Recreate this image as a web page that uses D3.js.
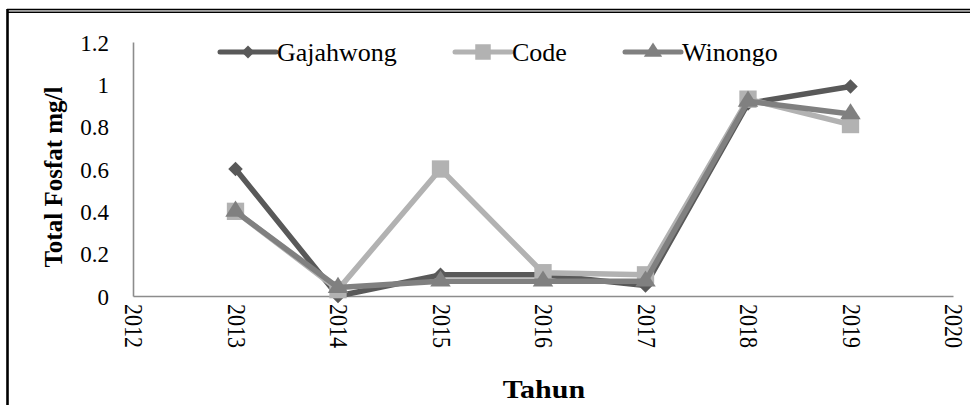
<!DOCTYPE html>
<html>
<head>
<meta charset="utf-8">
<script src="https://cdn.jsdelivr.net/npm/d3@7/dist/d3.min.js"></script>
<style>
  html, body { margin: 0; padding: 0; background: #fff; }
  svg { display: block; }
</style>
</head>
<body>
<svg id="chart" width="970" height="405"></svg>
<script>
// Total phosphate (mg/l) per river, 2013–2019
const years = [2013, 2014, 2015, 2016, 2017, 2018, 2019];
const gajahwong = [0.60, 0.00, 0.10, 0.10, 0.05, 0.91, 0.99];
const code = [0.40, 0.03, 0.60, 0.11, 0.10, 0.93, 0.81];
const winongo = [0.40, 0.04, 0.07, 0.07, 0.07, 0.92, 0.86];

const seriesNames = ["Gajahwong", "Code", "Winongo"];
const xTicks = [2012, 2013, 2014, 2015, 2016, 2017, 2018, 2019, 2020];
const yTicks = [0, 0.2, 0.4, 0.6, 0.8, 1, 1.2];

const FONT = "'Liberation Serif'";

const series = [
  { name: seriesNames[0], values: gajahwong, color: "#595959", symbol: d3.symbolSquare, size: 105, rot: 45, sx: 1.0 },
  { name: seriesNames[1], values: code, color: "#b2b2b2", symbol: d3.symbolSquare, size: 300, rot: 0, sx: 1.0 },
  { name: seriesNames[2], values: winongo, color: "#808080", symbol: d3.symbolTriangle, size: 150, rot: 0, sx: 1.1 }
];

const svg = d3.select("#chart");

// Frame
svg.append("line").attr("x1", 7).attr("x2", 970).attr("y1", 9.5).attr("y2", 9.5)
  .attr("stroke", "#000").attr("stroke-width", 1.4);
svg.append("line").attr("x1", 7).attr("x2", 970).attr("y1", 11).attr("y2", 11)
  .attr("stroke", "#999").attr("stroke-width", 1.4);
svg.append("line").attr("x1", 7).attr("x2", 970).attr("y1", 12.4).attr("y2", 12.4)
  .attr("stroke", "#000").attr("stroke-width", 1.2);
svg.append("line").attr("x1", 7.5).attr("x2", 7.5).attr("y1", 9).attr("y2", 405)
  .attr("stroke", "#000").attr("stroke-width", 2.6);

const x = d3.scaleLinear().domain([2012, 2020]).range([133, 953]);
const y = d3.scaleLinear().domain([0, 1.2]).range([296, 42]);

// Y axis
const yAxis = svg.append("g").attr("transform", `translate(${x(2012)},0)`)
  .call(d3.axisLeft(y).tickValues(yTicks).tickSize(0).tickPadding(24)
    .tickFormat(d => d3.format("")(+d.toFixed(1))));
yAxis.attr("font-family", null).attr("font-size", null).attr("fill", null);
yAxis.select(".domain").attr("stroke", "#8c8c8c").attr("stroke-width", 1.6);
yAxis.selectAll("text")
  .attr("fill", null).attr("dy", null).attr("y", 8)
  .style("font-family", FONT).style("font-size", "23px");

// X axis
const xAxis = svg.append("g").attr("transform", `translate(0,${y(0)})`)
  .call(d3.axisBottom(x).tickValues(xTicks).tickSize(0).tickFormat(d3.format("d")));
xAxis.attr("font-family", null).attr("font-size", null).attr("fill", null);
xAxis.select(".domain").attr("stroke", "#8c8c8c").attr("stroke-width", 1.6);
xAxis.selectAll("text")
  .attr("fill", null).attr("dy", null)
  .style("font-family", FONT).style("font-size", "22px")
  .attr("text-anchor", "start")
  .attr("transform", "translate(0,8) rotate(90) scale(1,1.1)")
  .attr("x", 0).attr("y", 7.5);

// Axis titles
svg.append("text")
  .attr("transform", `translate(62,${(y(0) + y(1.2)) / 2 + 8}) rotate(-90)`)
  .style("font-family", FONT).style("font-weight", "bold").style("font-size", "25px")
  .attr("text-anchor", "middle")
  .text("Total Fosfat mg/l");
svg.append("text")
  .attr("transform", "translate(544,398) scale(1.2,1)")
  .style("font-family", FONT).style("font-weight", "bold").style("font-size", "25px")
  .attr("text-anchor", "middle")
  .text("Tahun");

// Series lines and markers
const line = d3.line().x((d, i) => x(years[i])).y(d => y(d));
series.forEach(s => {
  svg.append("path").datum(s.values)
    .attr("d", line).attr("fill", "none")
    .attr("stroke", s.color).attr("stroke-width", 5.5).attr("stroke-linejoin", "round");
  svg.append("g").selectAll("path").data(s.values).join("path")
    .attr("d", d3.symbol().type(s.symbol).size(s.size))
    .attr("transform", (d, i) => `translate(${x(years[i])},${y(d)}) rotate(${s.rot}) scale(${s.sx},1)`)
    .attr("fill", s.color);
});

// Legend
const legendX = [220, 455, 625];
series.forEach((s, i) => {
  const g = svg.append("g").attr("transform", `translate(${legendX[i]},52)`);
  g.append("line").attr("x1", 0).attr("x2", 56).attr("y1", 0).attr("y2", 0)
    .attr("stroke", s.color).attr("stroke-width", 5).attr("stroke-linecap", "round");
  g.append("path").attr("d", d3.symbol().type(s.symbol).size(s.size * 0.8))
    .attr("transform", `translate(28,0) rotate(${s.rot}) scale(${s.sx},1)`).attr("fill", s.color);
  g.append("text").attr("x", 57).attr("y", 9)
    .style("font-family", FONT).style("font-size", "26px")
    .text(s.name);
});
</script>
</body>
</html>
